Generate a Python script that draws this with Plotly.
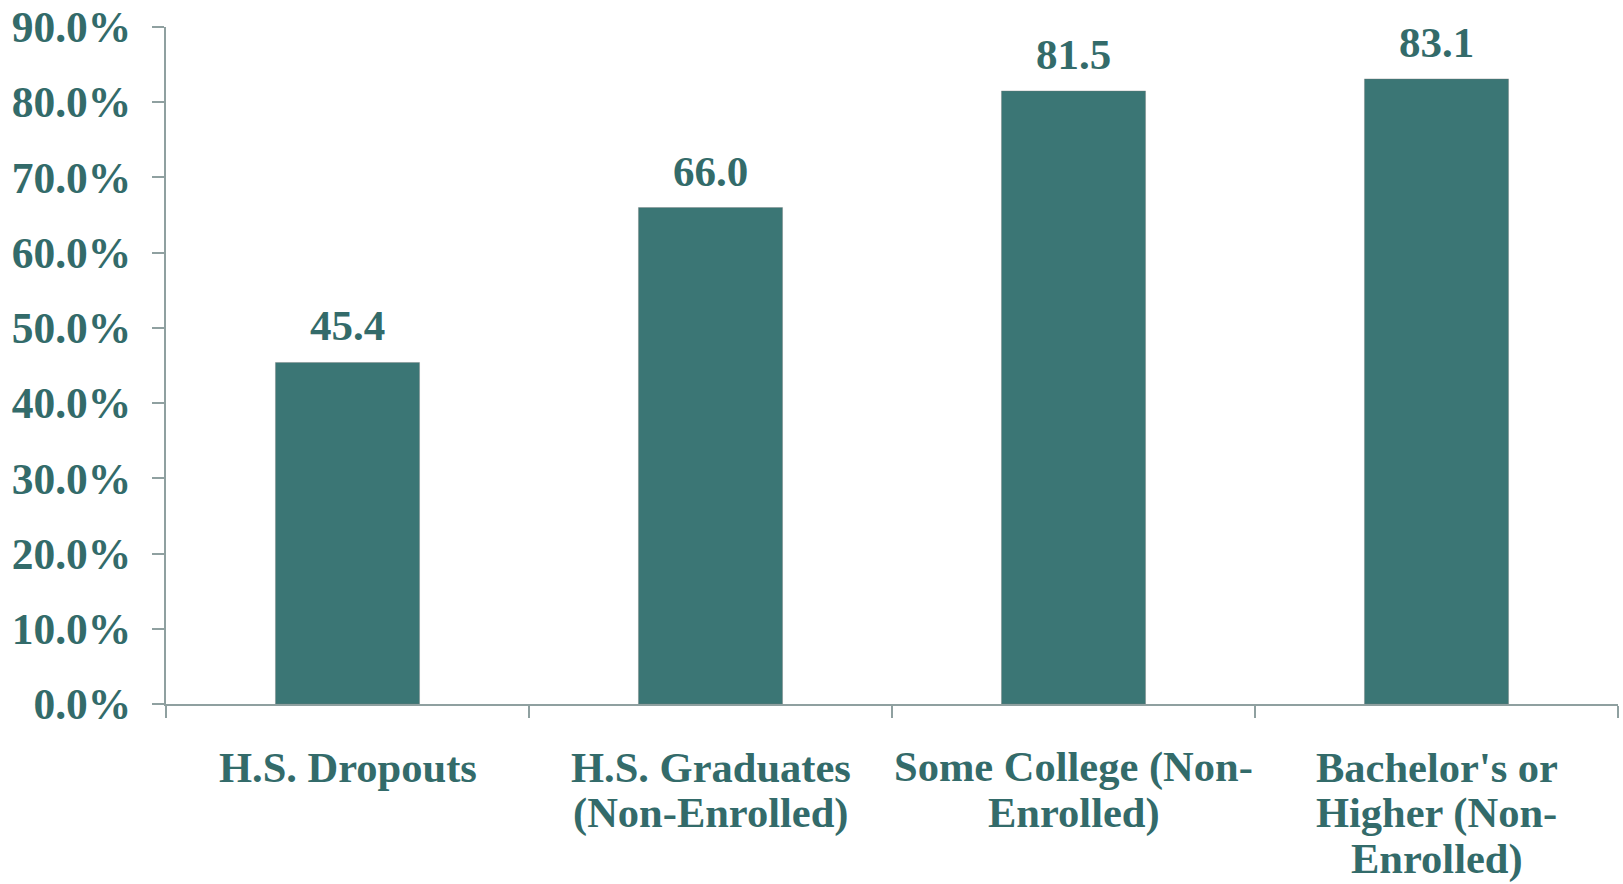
import plotly.graph_objects as go

categories = ["H.S. Dropouts", "H.S. Graduates<br>(Non-Enrolled)",
              "Some College (Non-<br>Enrolled)", "Bachelor's or<br>Higher (Non-<br>Enrolled)"]
values = [45.4, 66.0, 81.5, 83.1]
value_labels = ["45.4", "66.0", "81.5", "83.1"]
y_ticks = [0, 10, 20, 30, 40, 50, 60, 70, 80, 90]

TEXT = "#336B6A"
BAR = "#3B7675"
AXIS = "#8FA0A0"
FONT = "Liberation Serif"

fig = go.Figure()
fig.add_trace(go.Bar(
    x=categories, y=values,
    marker=dict(color=BAR, line=dict(color="rgba(120,120,120,0.35)", width=1)),
    hoverinfo="skip",
))

annotations = []
for c, v, t in zip(categories, values, value_labels):
    annotations.append(dict(x=c, y=v, xref="x", yref="y", text="<b>%s</b>" % t,
                            showarrow=False, yanchor="bottom", yshift=11,
                            font=dict(family=FONT, size=43, color=TEXT)))
    for i, line in enumerate(c.split("<br>")):
        annotations.append(dict(x=c, y=0, xref="x", yref="y", text="<b>%s</b>" % line,
                                showarrow=False, yanchor="middle", yshift=-(63 + i * 46),
                                font=dict(family=FONT, size=42.5, color=TEXT)))

fig.update_layout(
    width=1623, height=884,
    margin=dict(l=166, r=5, t=27, b=180),
    paper_bgcolor="white", plot_bgcolor="white",
    bargap=0.603,
    showlegend=False,
    annotations=annotations,
    xaxis=dict(
        type="category", tickson="boundaries", ticks="outside", ticklen=12,
        tickcolor=AXIS, tickwidth=2, showticklabels=False, automargin=False,
        showline=True, linecolor=AXIS, linewidth=2, showgrid=False,
    ),
    yaxis=dict(
        range=[0, 90], tickvals=y_ticks,
        ticktext=["<b>%.1f%%</b>" % v for v in y_ticks],
        ticks="outside", ticklen=12, tickcolor=AXIS, tickwidth=2,
        ticklabelstandoff=12, automargin=False, ticklabeloverflow="allow",
        tickfont=dict(family=FONT, size=43.5, color=TEXT),
        showline=True, linecolor=AXIS, linewidth=2, showgrid=False, zeroline=False,
    ),
)

# remove the browser's default page margin so the figure fills the window
fig.write_html("out.html", config={"displayModeBar": False},
               post_script="document.body.style.margin='0';")
